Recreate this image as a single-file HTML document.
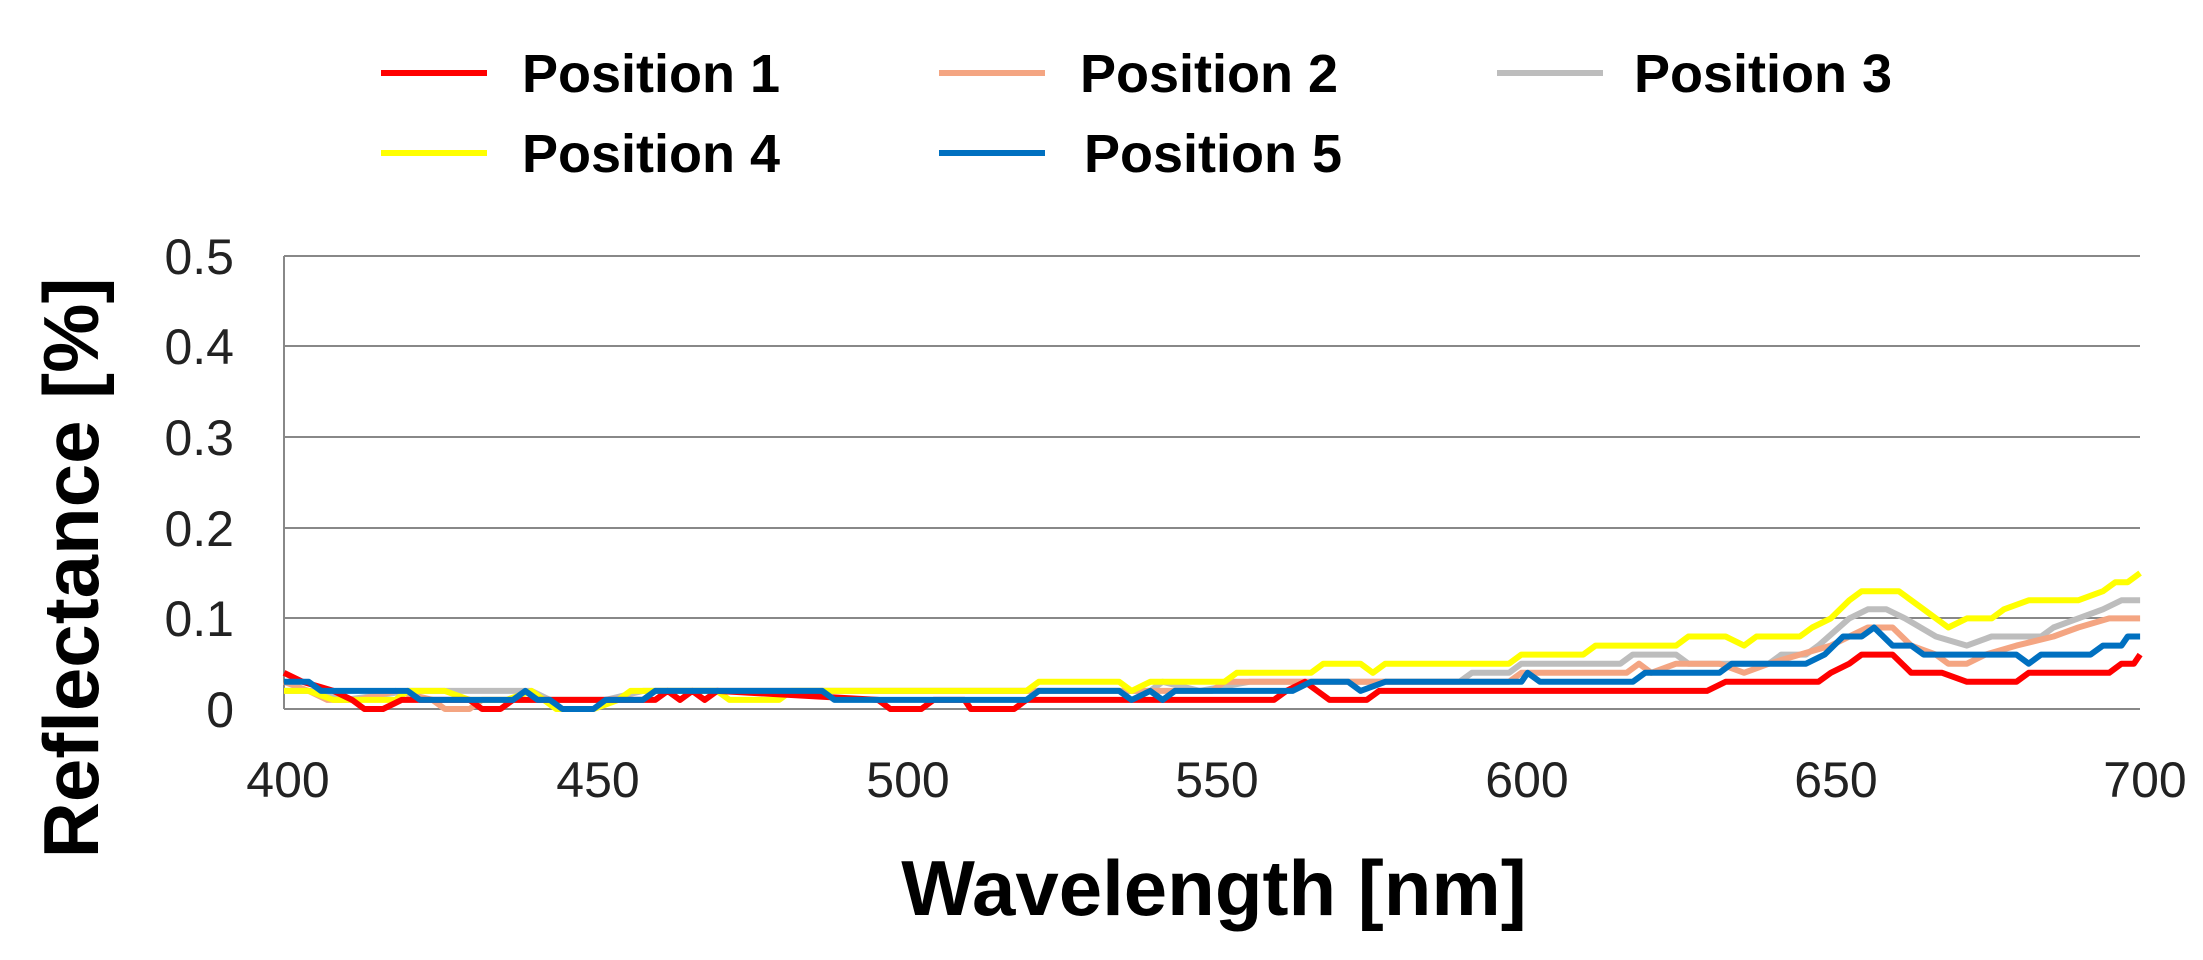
<!DOCTYPE html>
<html><head><meta charset="utf-8"><style>
html,body{margin:0;padding:0;background:#fff;}
svg{display:block;}
text{font-family:"Liberation Sans",sans-serif;}
</style></head><body>
<svg id="s" width="2203" height="960" viewBox="0 0 2203 960" xmlns="http://www.w3.org/2000/svg">
<g stroke="#888" stroke-width="2">
<line x1="284" y1="256" x2="2140" y2="256"/>
<line x1="284" y1="346" x2="2140" y2="346"/>
<line x1="284" y1="437" x2="2140" y2="437"/>
<line x1="284" y1="528" x2="2140" y2="528"/>
<line x1="284" y1="618" x2="2140" y2="618"/>
<line x1="284" y1="709" x2="2140" y2="709"/>
<line x1="284" y1="256" x2="284" y2="709"/>
</g>
<g font-size="50" fill="#222" text-anchor="end">
<text x="234" y="274">0.5</text><text x="234" y="364">0.4</text><text x="234" y="455">0.3</text>
<text x="234" y="546">0.2</text><text x="234" y="636">0.1</text><text x="234" y="727">0</text>
</g>
<g font-size="50" fill="#222" text-anchor="middle">
<text x="288" y="797">400</text><text x="598" y="797">450</text><text x="908" y="797">500</text>
<text x="1217" y="797">550</text><text x="1527" y="797">600</text><text x="1836" y="797">650</text><text x="2145" y="797">700</text>
</g>
<text x="1214" y="915" font-size="78" font-weight="bold" text-anchor="middle">Wavelength [nm]</text>
<text transform="translate(98,568) rotate(-90)" font-size="78" font-weight="bold" text-anchor="middle">Reflectance [%]</text>
<g stroke-width="6">
<line x1="381" y1="73" x2="487" y2="73" stroke="#ff0000"/>
<line x1="939" y1="73" x2="1045" y2="73" stroke="#f4a582"/>
<line x1="1497" y1="73" x2="1603" y2="73" stroke="#bdbdbd"/>
<line x1="381" y1="153" x2="487" y2="153" stroke="#ffff00"/>
<line x1="939" y1="153" x2="1045" y2="153" stroke="#0070c0"/>
</g>
<g font-size="54" font-weight="bold">
<text x="522" y="92">Position 1</text>
<text x="1080" y="92">Position 2</text>
<text x="1634" y="92">Position 3</text>
<text x="522" y="172">Position 4</text>
<text x="1084" y="172">Position 5</text>
</g>
<g id="series" fill="none" stroke-width="6" stroke-linejoin="round"></g>
</svg>
<script>
var S={
"#bdbdbd":[[400,.02],[405,.02],[410,.01],[420,.02],[440,.02],[443,.01],[452,.01],[458,.02],[540,.02],[542,.03],[548,.02],[556,.03],[590,.03],[592,.04],[598,.04],[600,.05],[616,.05],[618,.06],[625,.06],[627,.05],[640,.05],[642,.06],[646,.06],[648,.07],[653,.1],[656,.11],[659,.11],[662,.1],[667,.08],[672,.07],[676,.08],[684,.08],[686,.09],[690,.1],[694,.11],[697,.12],[700,.12]],
"#f4a582":[[400,.03],[404,.02],[407,.01],[412,.01],[418,.02],[424,.01],[426,0],[430,0],[432,.01],[458,.01],[460,.02],[550,.02],[552,.03],[598,.03],[600,.04],[617,.04],[619,.05],[621,.04],[625,.05],[632,.05],[636,.04],[640,.05],[645,.06],[650,.07],[653,.08],[656,.09],[660,.09],[663,.07],[667,.06],[669,.05],[672,.05],[675,.06],[680,.07],[686,.08],[690,.09],[695,.1],[700,.1]],
"#ffff00":[[400,.02],[404,.02],[408,.01],[418,.01],[420,.02],[426,.02],[430,.01],[436,.01],[440,.02],[442,.01],[444,0],[450,0],[454,.01],[456,.02],[470,.02],[472,.01],[480,.01],[482,.02],[520,.02],[522,.03],[535,.03],[537,.02],[540,.03],[552,.03],[554,.04],[566,.04],[568,.05],[574,.05],[576,.04],[578,.05],[598,.05],[600,.06],[610,.06],[612,.07],[625,.07],[627,.08],[633,.08],[636,.07],[638,.08],[645,.08],[647,.09],[650,.1],[653,.12],[655,.13],[661,.13],[665,.11],[669,.09],[672,.1],[676,.1],[678,.11],[682,.12],[690,.12],[694,.13],[696,.14],[698,.14],[700,.15]],
"#ff0000":[[400,.04],[403,.03],[408,.02],[411,.01],[413,0],[416,0],[419,.01],[430,.01],[432,0],[435,0],[437,.01],[460,.01],[462,.02],[464,.01],[466,.02],[468,.01],[470,.02],[496,.01],[498,0],[503,0],[505,.01],[510,.01],[511,0],[518,0],[520,.01],[560,.01],[562,.02],[565,.03],[567,.02],[569,.01],[575,.01],[577,.02],[630,.02],[633,.03],[648,.03],[650,.04],[653,.05],[655,.06],[660,.06],[663,.04],[668,.04],[672,.03],[680,.03],[682,.04],[695,.04],[697,.05],[699,.05],[700,.06]],
"#0070c0":[[400,.03],[404,.03],[406,.02],[420,.02],[422,.01],[437,.01],[439,.02],[441,.01],[443,.01],[445,0],[450,0],[452,.01],[458,.01],[460,.02],[487,.02],[489,.01],[520,.01],[522,.02],[535,.02],[537,.01],[540,.02],[542,.01],[544,.02],[563,.02],[566,.03],[572,.03],[574,.02],[578,.03],[600,.03],[601,.04],[603,.03],[618,.03],[620,.04],[632,.04],[634,.05],[646,.05],[649,.06],[652,.08],[655,.08],[657,.09],[660,.07],[663,.07],[665,.06],[680,.06],[682,.05],[684,.06],[692,.06],[694,.07],[697,.07],[698,.08],[700,.08]]
};
var g=document.getElementById('series'),ns='http://www.w3.org/2000/svg';
for(var c in S){var p=document.createElementNS(ns,'polyline');
p.setAttribute('points',S[c].map(function(d){return (284+(d[0]-400)*6.187).toFixed(1)+','+(709-d[1]*906).toFixed(1)}).join(' '));
p.setAttribute('stroke',c);g.appendChild(p);}
</script>
</body></html>
